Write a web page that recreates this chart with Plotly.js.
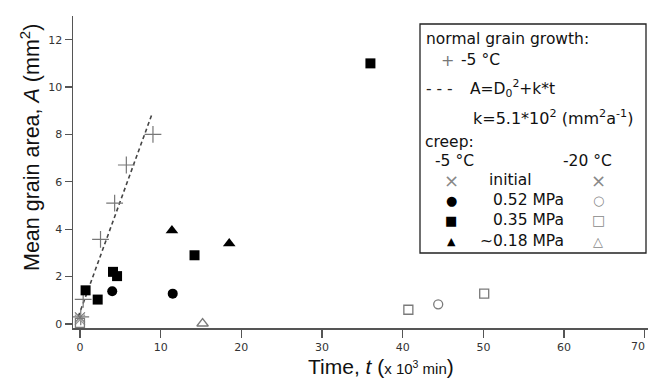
<!DOCTYPE html>
<html>
<head>
<meta charset="utf-8">
<script src="https://cdn.plot.ly/plotly-3.0.1.min.js"></script>
<style>html,body{margin:0;padding:0;background:#fff}#chart{width:648px;height:379px}</style>
</head>
<body>
<div id="chart"></div>
<script>
// ---- data (time in 10^3 min, area in mm^2) ----
const normalT = [0.1, 0.4, 2.55, 4.3, 5.75, 9.05];
const normalA = [0.3, 1.04, 3.57, 5.1, 6.71, 8.0];
const fitLineT = [-0.2, 8.96];
const fitLineA = [0.31, 8.89];
const initialM5T = [0.0];
const initialM5A = [0.28];
const initialM20T = [0.0];
const initialM20A = [0.18];
const p052M5T = [4.0, 11.5];
const p052M5A = [1.38, 1.28];
const p035M5T = [0.7, 2.2, 4.1, 4.6, 14.2, 36.0];
const p035M5A = [1.42, 1.03, 2.2, 2.02, 2.9, 11.0];
const p018M5T = [11.4, 18.5];
const p018M5A = [3.95, 3.4];
const p052M20T = [44.4];
const p052M20A = [0.83];
const p035M20T = [0.0, 40.7, 50.1];
const p035M20A = [0.05, 0.6, 1.28];
const p018M20T = [15.2];
const p018M20A = [0.02];
const xTicks = [0, 10, 20, 30, 40, 50, 60, 70];
const xTickText = ['0', '10', '20', '30', '40', '50', '60', '70'];
const yTicks = [0, 2, 4, 6, 8, 10, 12];

// ---- layout helpers (pixel -> paper) ----
const W = 648, H = 379, L = 73, R = 0, T = 16, B = 51;
const pw = W - L - R, ph = H - T - B;
const px = x => (x - L) / pw;
const py = y => (H - B - y) / ph;

const GRAY = '#7a7a7a';
const traces = [
  {x: fitLineT, y: fitLineA, mode: 'lines', line: {color: '#444', width: 1.6, dash: '4px,3px'}},
  {x: normalT, y: normalA, mode: 'markers', marker: {symbol: 'cross-thin-open', size: 12, color: '#777', line: {color: '#777', width: 1.2}}},
  {x: initialM5T, y: initialM5A, mode: 'markers', marker: {symbol: 'x-thin-open', size: 10, color: '#777', line: {color: '#777', width: 1.2}}},
  {x: initialM20T, y: initialM20A, mode: 'markers', marker: {symbol: 'x-thin-open', size: 10, color: '#999', line: {color: '#999', width: 1.2}}},
  {x: p052M5T, y: p052M5A, mode: 'markers', marker: {symbol: 'circle', size: 10, color: '#000'}},
  {x: p035M5T, y: p035M5A, mode: 'markers', marker: {symbol: 'square', size: 10, color: '#000'}},
  {x: p018M5T, y: p018M5A, mode: 'markers', marker: {symbol: 'triangle-up', size: 11, color: '#000'}},
  {x: p052M20T, y: p052M20A, mode: 'markers', marker: {symbol: 'circle-open', size: 9, color: GRAY, line: {width: 1.3}}},
  {x: p035M20T, y: p035M20A, mode: 'markers', marker: {symbol: 'square-open', size: 9, color: GRAY, line: {width: 1.3}}},
  {x: p018M20T, y: p018M20A, mode: 'markers', marker: {symbol: 'triangle-up-open', size: 10, color: GRAY, line: {width: 1.3}}}
];

const LF = 'DejaVu Sans';
const FS = 15.5;
const ann = (x, y, text, opts = {}) => Object.assign({
  xref: 'paper', yref: 'paper', x: px(x), y: py(y), text: text, showarrow: false,
  xanchor: 'left', yanchor: 'middle', font: {family: LF, size: FS, color: '#111'}
}, opts);

const lastIdx = xTickText.length - 1;
const annotations = [
  ann(424, 39, 'normal grain growth:'),
  ann(447, 60, '+', {xanchor: 'center', font: {family: LF, size: 16, color: '#777'}}),
  ann(459, 60, '-5 °C'),
  ann(424, 89, '- - -', {font: {family: LF, size: FS, color: '#222'}}),
  ann(468, 89, 'A=D<sub>0</sub><sup>2</sup>+k*t'),
  ann(471, 118, 'k=5.1*10<sup>2</sup> (mm<sup>2</sup>a<sup>-1</sup>)', {font: {family: LF, size: 16, color: '#111'}}),
  ann(423, 142, 'creep:'),
  ann(433, 161, '-5 °C'),
  ann(614, 161, '-20 °C', {xanchor: 'right'}),
  ann(451, 180, '×', {xanchor: 'center', font: {family: LF, size: 18, color: '#888'}}),
  ann(487, 180, 'initial'),
  ann(598, 180, '×', {xanchor: 'center', font: {family: LF, size: 18, color: '#888'}}),
  ann(451, 200, '●', {xanchor: 'center', font: {family: LF, size: 13, color: '#000'}}),
  ann(566, 200, '0.52 MPa', {xanchor: 'right'}),
  ann(598, 200, '○', {xanchor: 'center', font: {family: LF, size: 13, color: '#888'}}),
  ann(451, 220, '■', {xanchor: 'center', font: {family: LF, size: 13, color: '#000'}}),
  ann(566, 220, '0.35 MPa', {xanchor: 'right'}),
  ann(598, 220, '□', {xanchor: 'center', font: {family: LF, size: 14, color: '#888'}}),
  ann(451, 241, '▲', {xanchor: 'center', font: {family: LF, size: 11, color: '#000'}}),
  ann(566, 241, '~0.18 MPa', {xanchor: 'right'}),
  ann(598, 241, '△', {xanchor: 'center', font: {family: LF, size: 13, color: '#888'}}),
  // last x tick label, nudged inside the page edge
  ann(647, 346.5, xTickText[lastIdx], {xanchor: 'right', font: {family: LF, size: 11, color: '#333'}}),
  // axis titles
  ann(30, 148, 'Mean grain area, <i>A</i> (mm<sup>2</sup>)', {xanchor: 'center', textangle: -90,
    font: {family: 'Liberation Sans, Arial, sans-serif', size: 21.5, color: '#111'}}),
  ann(381, 366, 'Time, <i>t</i> (<span style="font-size:15px">x 10<sup>3</sup> min</span>)', {xanchor: 'center',
    font: {family: 'Liberation Sans, Arial, sans-serif', size: 21, color: '#111'}})
];

const layout = {
  width: W, height: H,
  margin: {l: L, r: R, t: T, b: B, pad: 0},
  paper_bgcolor: '#fff', plot_bgcolor: '#fff',
  showlegend: false,
  xaxis: {
    range: [-0.86, 70.4], tickvals: xTicks,
    ticktext: xTickText.map((t, i) => i === lastIdx ? ' ' : t),
    showgrid: false, zeroline: false, showline: true, linecolor: '#555', linewidth: 1.5,
    ticks: 'outside', ticklen: 8, tickwidth: 1.3, tickcolor: '#555',
    tickfont: {family: LF, size: 11, color: '#333'}
  },
  yaxis: {
    range: [-0.17, 13.0], tickvals: yTicks, ticktext: yTicks.map(String),
    showgrid: false, zeroline: false, showline: true, linecolor: '#555', linewidth: 1.5,
    ticks: 'outside', ticklen: 7, tickwidth: 1.3, tickcolor: '#555',
    tickfont: {family: LF, size: 11, color: '#333'}
  },
  shapes: [{
    type: 'rect', xref: 'paper', yref: 'paper',
    x0: px(420), x1: px(646), y0: py(253), y1: py(24),
    line: {color: '#222', width: 1.3}, fillcolor: 'rgba(255,255,255,0)'
  }],
  annotations: annotations
};

Plotly.newPlot('chart', traces, layout, {displayModeBar: false, staticPlot: true});
</script>
</body>
</html>
